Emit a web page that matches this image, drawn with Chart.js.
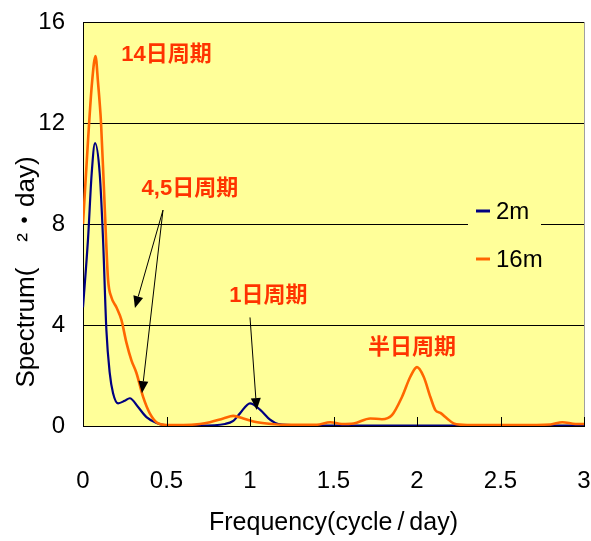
<!DOCTYPE html>
<html>
<head>
<meta charset="utf-8">
<script src="https://cdn.jsdelivr.net/npm/chart.js@4/dist/chart.umd.min.js"></script>
<style>
  html, body { margin: 0; padding: 0; background: #ffffff; }
  #wrap { width: 591px; height: 541px; }
</style>
</head>
<body>
<div id="wrap"><canvas id="chart"></canvas></div>
<script>
// dados
const freq2m = [0, 0.03, 0.052, 0.072, 0.1, 0.12, 0.14, 0.16, 0.18, 0.21, 0.25, 0.28, 0.33, 0.38, 0.44, 0.5, 0.7, 0.85, 0.9, 0.94, 1.0, 1.06, 1.12, 1.17, 1.3, 1.6, 2.0, 2.5, 3.0];
const spec2m = [4.7, 7.4, 10.0, 11.2, 10.0, 7.4, 3.8, 2.1, 1.3, 0.9, 1.0, 1.1, 0.75, 0.35, 0.12, 0.03, 0.02, 0.08, 0.2, 0.5, 0.9, 0.65, 0.25, 0.08, 0.03, 0.02, 0.02, 0.02, 0.02];

const freq16m = [0, 0.03, 0.054, 0.075, 0.09, 0.108, 0.126, 0.138, 0.15, 0.17, 0.2, 0.23, 0.26, 0.29, 0.32, 0.36, 0.4, 0.45, 0.5, 0.6, 0.7, 0.76, 0.84, 0.9, 0.96, 1.02, 1.1, 1.2, 1.4, 1.48, 1.55, 1.62, 1.72, 1.79, 1.85, 1.91, 1.96, 2.0, 2.04, 2.08, 2.11, 2.14, 2.18, 2.22, 2.3, 2.6, 2.8, 2.87, 2.95, 3.0];
const spec16m = [8.0, 11.3, 13.6, 14.65, 13.6, 12.0, 9.3, 7.4, 5.8, 5.1, 4.7, 4.2, 3.3, 2.6, 2.1, 1.15, 0.5, 0.1, 0.04, 0.04, 0.08, 0.15, 0.3, 0.4, 0.3, 0.18, 0.1, 0.05, 0.05, 0.15, 0.08, 0.1, 0.3, 0.27, 0.43, 1.15, 1.95, 2.33, 1.95, 1.15, 0.63, 0.52, 0.3, 0.1, 0.04, 0.04, 0.06, 0.15, 0.08, 0.08];

const seriesNames = ['2m', '16m'];
const seriesColors = ['#000080', '#FF6600'];

// anotações (coordenadas em unidades de dados)
const noteTexts = ['14日周期', '4,5日周期', '1日周期', '半日周期'];
const noteX = [0.5, 0.64, 1.11, 1.97];
const noteY = [14.7, 9.4, 5.15, 3.1];

const arrowFromX = [0.479, 0.479, 1.0];
const arrowFromY = [8.55, 8.55, 4.3];
const arrowToX = [0.311, 0.353, 1.04];
const arrowToY = [4.67, 1.3, 0.63];

const fonte = "'Liberation Sans', 'Noto Sans CJK JP', Arial, sans-serif";

function pontos(xs, ys) {
    return xs.map(function (x, i) { return { x: x, y: ys[i] }; });
}

const fundoPlugin = {
    id: 'fundo',
    beforeDraw: function (chart) {
        const ca = chart.chartArea;
        const ctx = chart.ctx;
        ctx.save();
        ctx.fillStyle = '#FFFF99';
        ctx.fillRect(ca.left, ca.top, ca.right - ca.left, ca.bottom - ca.top);
        ctx.restore();
    },
    afterDatasetsDraw: function (chart) {
        const ca = chart.chartArea;
        const ctx = chart.ctx;
        const xs = chart.scales.x;
        const ys = chart.scales.y;
        ctx.save();

        // borda direita cinza
        ctx.strokeStyle = '#A0A0A0';
        ctx.lineWidth = 1;
        ctx.beginPath();
        ctx.moveTo(ca.right + 0.5, ca.top);
        ctx.lineTo(ca.right + 0.5, ca.bottom);
        ctx.stroke();

        // marcas internas do eixo x
        ctx.strokeStyle = '#000000';
        xs.ticks.forEach(function (t) {
            const px = Math.round(xs.getPixelForValue(t.value)) + 0.5;
            ctx.beginPath();
            ctx.moveTo(px, ca.bottom);
            ctx.lineTo(px, ca.bottom - 9);
            ctx.stroke();
        });

        // setas
        for (let i = 0; i < arrowFromX.length; i++) {
            const x1 = xs.getPixelForValue(arrowFromX[i]);
            const y1 = ys.getPixelForValue(arrowFromY[i]);
            const x2 = xs.getPixelForValue(arrowToX[i]);
            const y2 = ys.getPixelForValue(arrowToY[i]);
            const ang = Math.atan2(y2 - y1, x2 - x1);
            const len = 12, half = 5;
            const bx = x2 - len * Math.cos(ang);
            const by = y2 - len * Math.sin(ang);
            ctx.strokeStyle = '#000000';
            ctx.lineWidth = 1;
            ctx.beginPath();
            ctx.moveTo(x1, y1);
            ctx.lineTo(bx, by);
            ctx.stroke();
            ctx.fillStyle = '#000000';
            ctx.beginPath();
            ctx.moveTo(x2, y2);
            ctx.lineTo(bx + half * Math.sin(ang), by - half * Math.cos(ang));
            ctx.lineTo(bx - half * Math.sin(ang), by + half * Math.cos(ang));
            ctx.closePath();
            ctx.fill();
        }

        // textos
        ctx.font = "bold 22px 'Liberation Sans', 'Noto Sans CJK JP', sans-serif";
        ctx.fillStyle = '#FF3300';
        ctx.textAlign = 'center';
        ctx.textBaseline = 'middle';
        noteTexts.forEach(function (txt, i) {
            ctx.fillText(txt, xs.getPixelForValue(noteX[i]), ys.getPixelForValue(noteY[i]));
        });

        // legenda
        const lx = ca.right - 116;
        const ly = ca.top + 168;
        ctx.fillStyle = '#FFFF99';
        ctx.fillRect(lx, ly, 73, 95);
        ctx.font = '24px ' + fonte;
        ctx.textAlign = 'left';
        seriesNames.forEach(function (nome, i) {
            const yy = ly + 21 + i * 48;
            ctx.strokeStyle = seriesColors[i];
            ctx.lineWidth = 3;
            ctx.beginPath();
            ctx.moveTo(lx + 8, yy);
            ctx.lineTo(lx + 22, yy);
            ctx.stroke();
            ctx.fillStyle = '#000000';
            ctx.fillText(nome, lx + 28, yy + 1);
        });

        ctx.restore();
    },
    afterDraw: function (chart) {
        const ctx = chart.ctx;
        ctx.save();
        ctx.translate(27, 272);
        ctx.rotate(-Math.PI / 2);
        ctx.font = "26px 'Liberation Sans', 'Noto Sans CJK JP', sans-serif";
        ctx.fillStyle = '#000000';
        ctx.textAlign = 'center';
        ctx.textBaseline = 'middle';
        ctx.fillText('Spectrum(　²・day)', 0, 0);
        ctx.restore();
    }
};

new Chart(document.getElementById('chart').getContext('2d'), {
    type: 'scatter',
    data: {
        datasets: [
            {
                label: seriesNames[0],
                data: pontos(freq2m, spec2m),
                showLine: true,
                borderColor: seriesColors[0],
                borderWidth: 2.2,
                pointRadius: 0,
                cubicInterpolationMode: 'monotone',
                order: 1
            },
            {
                label: seriesNames[1],
                data: pontos(freq16m, spec16m),
                showLine: true,
                borderColor: seriesColors[1],
                borderWidth: 2.6,
                pointRadius: 0,
                cubicInterpolationMode: 'monotone',
                order: 0
            }
        ]
    },
    options: {
        responsive: true,
        maintainAspectRatio: false,
        animation: false,
        layout: { padding: { top: 22, right: 7, left: 0, bottom: 0 } },
        plugins: {
            legend: { display: false },
            tooltip: { enabled: false }
        },
        scales: {
            x: {
                type: 'linear',
                min: 0,
                max: 3,
                afterFit: function (s) { s.height = 115; },
                grid: {
                    display: true,
                    drawOnChartArea: false,
                    drawTicks: true,
                    tickLength: 41,
                    tickColor: 'rgba(0,0,0,0)'
                },
                border: { display: true, color: '#000000', width: 1 },
                ticks: {
                    stepSize: 0.5,
                    padding: 0,
                    color: '#000000',
                    font: { size: 24, family: fonte },
                    callback: function (v) { return String(v); }
                },
                title: {
                    display: true,
                    text: 'Frequency(cycle\u2009/\u2009day)',
                    color: '#000000',
                    font: { size: 25, family: fonte },
                    padding: { top: 0, bottom: 3 }
                }
            },
            y: {
                min: 0,
                max: 16,
                afterFit: function (s) { s.width = 83; },
                grid: {
                    color: '#000000',
                    lineWidth: 1,
                    drawTicks: true,
                    tickLength: 18,
                    tickColor: 'rgba(0,0,0,0)'
                },
                border: { display: true, color: '#000000', width: 1 },
                ticks: {
                    stepSize: 4,
                    padding: 0,
                    color: '#000000',
                    font: { size: 24, family: fonte }
                }
            }
        }
    },
    plugins: [fundoPlugin]
});
</script>
</body>
</html>
